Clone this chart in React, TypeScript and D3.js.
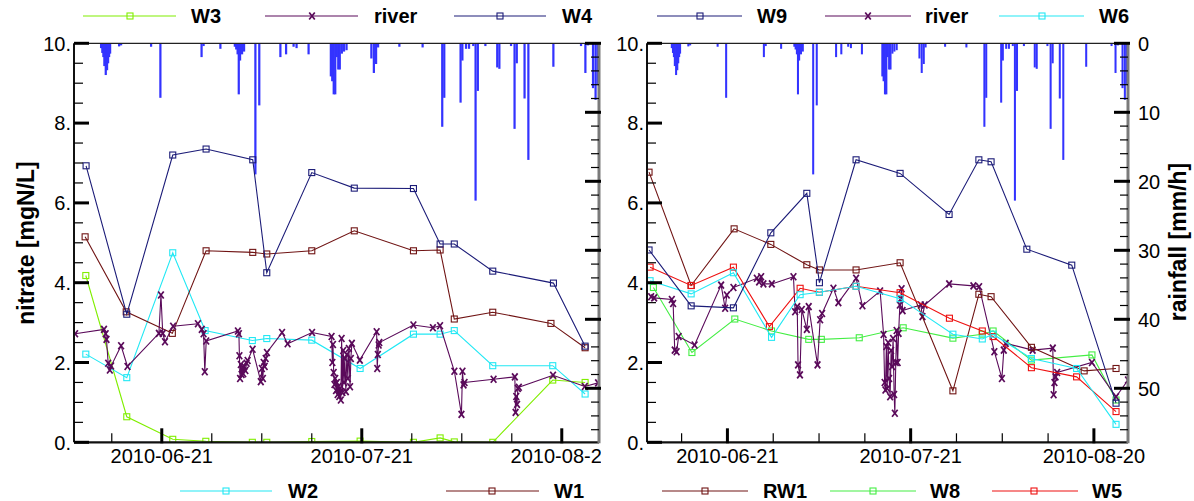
import * as d3 from "d3";

type Pt = [string, number];

const parse = d3.timeParse("%Y-%m-%d %H:%M");
const T = (s: string) => parse(s.length === 10 ? s + " 00:00" : s) as Date;

// time window shared by both panels
const tStart = "2010-06-07 20:00";
const tEnd = "2010-08-25 14:00";
const dateTicks = ["2010-06-21", "2010-07-21", "2010-08-20"];

const nitrateMajor = [0, 2, 4, 6, 8, 10];
const rainMajor = [0, 10, 20, 30, 40, 50];

// ---------- left panel ----------
const W3: Pt[] = [
  ["2010-06-09 14:30", 4.18], ["2010-06-15 18:00", 0.64], ["2010-06-22 15:30", 0.075],
  ["2010-06-27 14:30", 0.025], ["2010-07-04 14:00", 0.0], ["2010-07-06 18:00", 0.0],
  ["2010-07-13 12:00", 0.02], ["2010-07-20 18:00", 0.03], ["2010-07-28 18:00", 0.0],
  ["2010-08-01 18:00", 0.11], ["2010-08-03 21:00", 0.01], ["2010-08-09 15:30", 0.0],
  ["2010-08-18 15:30", 1.56], ["2010-08-23 12:00", 1.5],
];
const W4: Pt[] = [
  ["2010-06-09 15:30", 6.93], ["2010-06-15 18:00", 3.21], ["2010-06-22 15:30", 7.2],
  ["2010-06-27 15:30", 7.35], ["2010-07-04 15:30", 7.08], ["2010-07-06 18:00", 4.25],
  ["2010-07-13 12:00", 6.76], ["2010-07-19 21:00", 6.37], ["2010-07-28 18:00", 6.36],
  ["2010-08-01 18:00", 4.97], ["2010-08-03 21:00", 4.97], ["2010-08-09 15:30", 4.29],
  ["2010-08-18 18:00", 3.99], ["2010-08-23 12:00", 2.41],
];
const W2: Pt[] = [
  ["2010-06-09 14:30", 2.21], ["2010-06-15 18:00", 1.62], ["2010-06-22 15:30", 4.75],
  ["2010-06-27 12:00", 2.8], ["2010-07-04 14:00", 2.55], ["2010-07-06 18:00", 2.6],
  ["2010-07-13 12:00", 2.56], ["2010-07-20 18:00", 1.85], ["2010-07-28 18:00", 2.71],
  ["2010-08-01 18:00", 2.71], ["2010-08-03 21:00", 2.8], ["2010-08-09 15:30", 1.92],
  ["2010-08-18 15:30", 1.92], ["2010-08-23 12:00", 1.21],
];
const W1: Pt[] = [
  ["2010-06-09 12:00", 5.15], ["2010-06-15 16:00", 3.27], ["2010-06-22 14:00", 2.73],
  ["2010-06-27 15:30", 4.8], ["2010-07-04 15:30", 4.76], ["2010-07-06 18:00", 4.72],
  ["2010-07-13 12:00", 4.8], ["2010-07-19 21:00", 5.3], ["2010-07-28 18:00", 4.8],
  ["2010-08-01 18:00", 4.82], ["2010-08-03 21:00", 3.09], ["2010-08-09 15:30", 3.26],
  ["2010-08-18 09:00", 2.98], ["2010-08-23 12:00", 2.37],
];
const riverA: Pt[] = [
  ["2010-06-08 00:00", 2.72], ["2010-06-12 08:00", 2.83], ["2010-06-12 14:00", 2.72],
  ["2010-06-12 17:00", 2.58], ["2010-06-12 23:00", 1.98], ["2010-06-13 05:00", 1.81],
  ["2010-06-13 09:30", 1.91], ["2010-06-14 21:30", 2.42], ["2010-06-15 20:30", 1.9],
  ["2010-06-20 13:40", 2.73], ["2010-06-20 21:00", 3.69], ["2010-06-21 03:30", 2.73],
  ["2010-06-21 11:30", 2.52], ["2010-06-22 16:45", 2.91], ["2010-06-26 10:00", 2.97],
  ["2010-06-27 00:00", 2.83], ["2010-06-27 06:30", 2.72], ["2010-06-27 10:50", 1.77],
  ["2010-06-27 16:00", 2.54], ["2010-07-02 10:00", 2.79], ["2010-07-02 13:40", 2.72],
  ["2010-07-02 15:30", 2.17], ["2010-07-02 17:50", 1.6], ["2010-07-02 20:40", 1.95],
  ["2010-07-02 23:20", 1.7], ["2010-07-03 02:10", 1.88], ["2010-07-03 05:20", 1.72],
  ["2010-07-03 09:00", 1.9], ["2010-07-03 13:00", 1.8], ["2010-07-03 17:20", 1.98],
  ["2010-07-03 21:00", 2.05], ["2010-07-04 15:00", 2.33], ["2010-07-05 20:30", 1.52],
  ["2010-07-06 00:20", 1.85], ["2010-07-06 04:00", 1.6], ["2010-07-06 06:50", 2.0],
  ["2010-07-06 10:30", 1.9], ["2010-07-06 14:00", 2.1], ["2010-07-06 18:40", 2.25],
  ["2010-07-09 01:00", 2.75], ["2010-07-09 21:00", 2.47], ["2010-07-13 13:00", 2.75],
  ["2010-07-16 11:20", 2.65], ["2010-07-16 14:10", 2.0], ["2010-07-16 16:20", 2.45],
  ["2010-07-16 18:50", 1.75], ["2010-07-16 21:40", 1.45], ["2010-07-17 00:30", 1.6],
  ["2010-07-17 03:20", 1.3], ["2010-07-17 06:20", 1.5], ["2010-07-17 09:10", 1.2],
  ["2010-07-17 12:00", 1.4], ["2010-07-17 15:00", 1.15], ["2010-07-17 17:50", 1.35],
  ["2010-07-17 20:40", 1.06], ["2010-07-17 23:30", 2.6], ["2010-07-18 02:20", 1.25],
  ["2010-07-18 05:20", 2.3], ["2010-07-18 08:10", 1.5], ["2010-07-18 11:00", 2.1],
  ["2010-07-18 14:40", 1.27], ["2010-07-18 18:20", 2.2], ["2010-07-18 21:50", 1.6],
  ["2010-07-19 01:30", 2.35], ["2010-07-19 05:50", 1.39], ["2010-07-19 08:40", 2.1],
  ["2010-07-19 12:20", 2.48], ["2010-07-20 17:00", 2.06], ["2010-07-23 05:30", 2.77],
  ["2010-07-23 07:40", 1.85], ["2010-07-23 09:50", 2.2], ["2010-07-23 12:50", 2.44],
  ["2010-07-23 15:00", 2.5], ["2010-07-28 17:50", 2.94], ["2010-07-31 16:00", 2.87],
  ["2010-08-01 17:50", 2.92], ["2010-08-03 21:20", 1.78], ["2010-08-04 22:50", 0.7],
  ["2010-08-05 02:30", 1.78], ["2010-08-05 06:20", 1.44], ["2010-08-05 10:00", 1.5],
  ["2010-08-09 18:30", 1.58], ["2010-08-12 23:00", 1.64], ["2010-08-13 01:40", 0.75],
  ["2010-08-13 04:10", 1.15], ["2010-08-13 07:00", 0.95], ["2010-08-13 09:50", 1.35],
  ["2010-08-13 13:30", 1.38], ["2010-08-18 16:30", 1.68], ["2010-08-23 11:00", 1.4],
  ["2010-08-25 10:30", 1.49],
];

// ---------- right panel ----------
const W9: Pt[] = [
  ["2010-06-08 04:00", 4.82], ["2010-06-15 01:30", 3.42], ["2010-06-21 23:30", 3.37],
  ["2010-06-28 02:30", 5.25], ["2010-07-04 00:00", 6.24], ["2010-07-06 01:30", 4.0],
  ["2010-07-12 01:30", 7.08], ["2010-07-19 06:30", 6.74], ["2010-07-27 07:00", 5.71],
  ["2010-08-01 04:00", 7.08], ["2010-08-03 04:00", 7.03], ["2010-08-09 00:30", 4.84],
  ["2010-08-16 09:00", 4.44], ["2010-08-23 15:00", 0.98],
];
const W6: Pt[] = [
  ["2010-06-08 08:10", 4.05], ["2010-06-15 01:30", 3.72], ["2010-06-21 23:30", 4.25],
  ["2010-06-28 05:20", 2.63], ["2010-07-02 21:40", 3.7], ["2010-07-06 01:30", 3.76],
  ["2010-07-12 01:30", 3.91], ["2010-07-19 06:30", 3.6], ["2010-07-27 22:00", 2.71],
  ["2010-08-01 17:30", 2.59], ["2010-08-03 12:00", 2.71], ["2010-08-09 18:30", 2.1],
  ["2010-08-17 04:00", 1.85], ["2010-08-23 15:00", 0.45],
];
const RW1: Pt[] = [
  ["2010-06-08 04:00", 6.77], ["2010-06-15 01:30", 3.93], ["2010-06-22 02:20", 5.35],
  ["2010-06-28 02:30", 4.96], ["2010-07-04 00:00", 4.45], ["2010-07-06 01:30", 4.32],
  ["2010-07-12 01:30", 4.32], ["2010-07-19 06:30", 4.5], ["2010-07-27 22:00", 1.29],
  ["2010-08-01 04:00", 3.71], ["2010-08-03 04:00", 3.65], ["2010-08-09 18:30", 2.38],
  ["2010-08-18 09:40", 1.79], ["2010-08-23 15:00", 1.85],
];
const W8: Pt[] = [
  ["2010-06-08 21:10", 3.88], ["2010-06-15 04:30", 2.25], ["2010-06-22 05:00", 3.09],
  ["2010-06-28 05:20", 2.79], ["2010-07-04 07:30", 2.58], ["2010-07-06 09:00", 2.58],
  ["2010-07-12 14:00", 2.62], ["2010-07-19 18:40", 2.87], ["2010-07-27 22:00", 2.61],
  ["2010-08-01 17:30", 2.71], ["2010-08-03 12:00", 2.79], ["2010-08-09 18:30", 2.06],
  ["2010-08-19 16:20", 2.19], ["2010-08-23 15:00", 1.06],
];
const W5: Pt[] = [
  ["2010-06-08 08:10", 4.39], ["2010-06-15 01:30", 3.93], ["2010-06-21 23:30", 4.39],
  ["2010-06-27 21:00", 2.9], ["2010-07-02 21:40", 3.86], ["2010-07-06 01:30", 3.76],
  ["2010-07-12 01:30", 3.91], ["2010-07-19 06:30", 3.75], ["2010-07-27 08:20", 3.11],
  ["2010-08-01 17:30", 2.79], ["2010-08-03 12:00", 2.65], ["2010-08-09 18:30", 1.87],
  ["2010-08-17 04:00", 1.64], ["2010-08-23 15:00", 0.77],
];
const riverB: Pt[] = [
  ["2010-06-08 12:15", 3.65], ["2010-06-09 00:00", 3.62], ["2010-06-11 21:30", 3.58],
  ["2010-06-12 02:40", 3.48], ["2010-06-12 09:00", 2.31], ["2010-06-12 16:20", 2.27],
  ["2010-06-13 00:15", 2.65], ["2010-06-15 15:00", 2.44], ["2010-06-19 23:15", 3.94],
  ["2010-06-20 15:00", 3.36], ["2010-06-20 21:40", 3.69], ["2010-06-21 23:40", 3.88],
  ["2010-06-25 19:30", 4.11], ["2010-06-26 04:30", 4.02], ["2010-06-26 12:30", 4.15],
  ["2010-06-26 21:30", 3.97], ["2010-06-28 06:30", 3.97], ["2010-07-01 19:30", 4.15],
  ["2010-07-02 02:00", 3.27], ["2010-07-02 10:20", 3.4], ["2010-07-02 13:30", 1.94],
  ["2010-07-02 21:00", 1.69], ["2010-07-03 04:20", 3.33], ["2010-07-04 00:00", 2.83],
  ["2010-07-04 07:30", 3.4], ["2010-07-05 18:00", 1.94], ["2010-07-06 04:20", 3.07],
  ["2010-07-06 12:00", 3.23], ["2010-07-08 08:30", 3.86], ["2010-07-09 04:00", 3.5],
  ["2010-07-12 01:40", 4.11], ["2010-07-13 02:30", 3.42], ["2010-07-16 00:00", 3.79],
  ["2010-07-16 13:40", 2.7], ["2010-07-16 17:40", 1.5], ["2010-07-16 20:50", 1.31],
  ["2010-07-17 00:30", 2.4], ["2010-07-17 03:40", 1.35], ["2010-07-17 07:30", 2.5],
  ["2010-07-17 11:20", 1.6], ["2010-07-17 15:20", 1.14], ["2010-07-17 19:10", 2.3],
  ["2010-07-17 23:00", 1.9], ["2010-07-18 03:00", 2.6], ["2010-07-18 07:00", 1.2],
  ["2010-07-18 09:50", 0.73], ["2010-07-18 13:30", 2.0], ["2010-07-18 16:50", 2.8],
  ["2010-07-18 20:50", 2.0], ["2010-07-19 00:40", 2.73], ["2010-07-19 05:30", 3.44],
  ["2010-07-19 09:00", 3.6], ["2010-07-19 12:30", 3.85], ["2010-07-19 16:20", 3.3],
  ["2010-07-22 16:00", 3.44], ["2010-07-22 22:20", 3.15], ["2010-07-23 07:00", 3.44],
  ["2010-07-27 07:10", 3.97], ["2010-07-31 06:30", 3.92], ["2010-08-01 05:00", 3.9],
  ["2010-08-03 16:50", 2.27], ["2010-08-04 22:30", 1.6], ["2010-08-05 06:00", 2.31],
  ["2010-08-05 13:30", 2.48], ["2010-08-09 23:20", 2.31], ["2010-08-13 06:30", 2.36],
  ["2010-08-13 09:50", 1.19], ["2010-08-13 13:00", 1.5], ["2010-08-13 17:20", 1.64],
  ["2010-08-13 23:30", 1.75], ["2010-08-19 16:20", 2.0], ["2010-08-23 15:00", 1.14],
  ["2010-08-25 14:00", 1.56],
];

// rainfall [mm/h], shared by both panels
const rain: Pt[] = [
  ["2010-06-11 21:30", 0.7], ["2010-06-12 02:00", 1.4], ["2010-06-12 05:45", 2.0],
  ["2010-06-12 09:20", 3.3], ["2010-06-12 14:20", 4.6], ["2010-06-12 19:00", 3.9],
  ["2010-06-12 22:45", 2.9], ["2010-06-13 02:20", 2.0], ["2010-06-13 06:00", 1.5],
  ["2010-06-14 14:20", 0.45], ["2010-06-14 21:30", 0.3], ["2010-06-19 09:30", 0.5],
  ["2010-06-20 19:00", 7.9], ["2010-06-26 23:15", 2.0], ["2010-06-27 06:30", 0.4],
  ["2010-06-29 19:00", 0.8], ["2010-07-01 23:00", 0.5], ["2010-07-02 04:00", 0.9],
  ["2010-07-02 09:00", 1.6], ["2010-07-02 13:10", 7.4], ["2010-07-02 17:50", 2.5],
  ["2010-07-03 01:00", 1.6], ["2010-07-03 08:15", 1.2], ["2010-07-05 01:00", 19.0],
  ["2010-07-05 15:00", 9.0], ["2010-07-08 19:00", 2.0], ["2010-07-09 15:30", 1.6],
  ["2010-07-10 18:30", 0.5], ["2010-07-11 05:15", 0.7], ["2010-07-13 00:30", 1.6],
  ["2010-07-16 08:40", 4.8], ["2010-07-16 13:40", 5.5], ["2010-07-16 19:00", 7.4],
  ["2010-07-17 00:30", 7.4], ["2010-07-17 06:00", 2.0], ["2010-07-17 11:20", 3.8],
  ["2010-07-17 16:50", 3.8], ["2010-07-18 00:15", 1.5], ["2010-07-18 08:10", 1.2],
  ["2010-07-18 17:10", 1.0], ["2010-07-22 10:30", 2.2], ["2010-07-22 19:30", 4.3],
  ["2010-07-23 03:30", 3.0], ["2010-07-23 10:40", 0.6], ["2010-07-26 15:20", 0.5],
  ["2010-07-30 03:00", 0.6], ["2010-08-02 01:40", 12.1], ["2010-08-02 09:00", 7.9],
  ["2010-08-04 19:40", 8.6], ["2010-08-05 02:10", 2.5], ["2010-08-05 15:20", 0.8],
  ["2010-08-06 02:10", 0.8], ["2010-08-06 17:20", 0.4], ["2010-08-07 01:40", 22.8],
  ["2010-08-07 09:50", 6.9], ["2010-08-08 13:00", 0.4], ["2010-08-10 07:40", 3.5],
  ["2010-08-10 15:20", 3.7], ["2010-08-12 09:20", 0.4], ["2010-08-12 22:00", 12.4],
  ["2010-08-13 06:00", 2.9], ["2010-08-14 10:00", 8.0], ["2010-08-14 23:45", 16.9],
  ["2010-08-18 17:45", 3.4], ["2010-08-22 21:20", 0.4], ["2010-08-23 13:00", 4.3],
  ["2010-08-23 22:30", 0.3], ["2010-08-24 16:30", 6.5], ["2010-08-25 01:40", 8.2],
  ["2010-08-25 09:00", 6.0],
];

type Series = { name: string; data: Pt[]; color: string; marker: "sq" | "x" };

const C = {
  green: "#80ee00",
  river: "#5a0a5a",
  navy: "#1c1c78",
  cyan: "#22e8f4",
  maroon: "#701414",
  lime: "#44ee44",
  red: "#ee1111",
  rain: "#3333ff",
};

const leftSeries: Series[] = [
  { name: "W3", data: W3, color: C.green, marker: "sq" },
  { name: "W2", data: W2, color: C.cyan, marker: "sq" },
  { name: "W1", data: W1, color: C.maroon, marker: "sq" },
  { name: "river", data: riverA, color: C.river, marker: "x" },
  { name: "W4", data: W4, color: C.navy, marker: "sq" },
];
const rightSeries: Series[] = [
  { name: "W8", data: W8, color: C.lime, marker: "sq" },
  { name: "river", data: riverB, color: C.river, marker: "x" },
  { name: "RW1", data: RW1, color: C.maroon, marker: "sq" },
  { name: "W5", data: W5, color: C.red, marker: "sq" },
  { name: "W6", data: W6, color: C.cyan, marker: "sq" },
  { name: "W9", data: W9, color: C.navy, marker: "sq" },
];

// legend layout: [name, lineStart, lineEnd, markerX, textX]
type Leg = [string, number, number, number, number];
const legendLayout: { y: number; items: Leg[] }[] = [
  { y: 16, items: [["W3", 83, 176, 130, 191], ["river", 265, 358, 312, 374], ["W4", 454, 546, 500, 562]] },
  { y: 16, items: [["W9", 657, 742, 700, 757], ["river", 825, 911, 868, 925], ["W6", 999, 1084, 1042, 1099]] },
  { y: 491, items: [["W2", 180, 272, 226, 288], ["W1", 446, 539, 492, 554]] },
  { y: 491, items: [["RW1", 662, 748, 705, 763], ["W8", 830, 916, 873, 930], ["W5", 992, 1078, 1034, 1092]] },
];

const TOP = 43.3;
const BOT = 442.3;
const FONT = "'Liberation Sans', Arial, Helvetica, sans-serif";

const yN = d3.scaleLinear().domain([0, 10]).range([BOT, TOP]);
const yR = d3.scaleLinear().domain([0, (BOT - TOP) / 6.9]).range([TOP, BOT]);

function Marker({ x, y, color, kind }: { x: number; y: number; color: string; kind: "sq" | "x" }) {
  if (kind === "sq")
    return <rect x={x - 3} y={y - 3} width={6} height={6} fill="none" stroke={color} strokeWidth={1.1} />;
  return (
    <g stroke={color} strokeWidth={1.7}>
      <line x1={x - 2.8} y1={y - 3.5} x2={x + 2.8} y2={y + 3.5} />
      <line x1={x - 2.8} y1={y + 3.5} x2={x + 2.8} y2={y - 3.5} />
    </g>
  );
}

function Panel({ id, x0, x1, series, rainLabels }: { id: string; x0: number; x1: number; series: Series[]; rainLabels: boolean }) {
  const x = d3.scaleTime().domain([T(tStart), T(tEnd)]).range([x0, x1]);
  const line = d3
    .line<Pt>()
    .x((d) => x(T(d[0])))
    .y((d) => yN(d[1]));
  const minorX: Date[] = [];
  for (let k = -4; k <= 8; k++) {
    const t = d3.timeHour.offset(T(dateTicks[0]), k * 180);
    if (t >= T(tStart) && t <= T(tEnd)) minorX.push(t);
  }
  const nMinor = d3.range(0, 10.001, 0.5);
  const rMinor = d3.range(0, yR.domain()[1], 2);
  const barW = (d: Pt) => Math.max(1.6, x(d3.timeHour.offset(T(d[0]), 8)) - x(T(d[0])));

  return (
    <g>
      <defs>
        <clipPath id={"clip" + id}>
          <rect x={x0} y={TOP} width={x1 - x0} height={BOT - TOP} />
        </clipPath>
      </defs>
      {/* rainfall bars */}
      <g clipPath={`url(#clip${id})`}>
        {rain.map((d, i) => (
          <rect key={i} x={x(T(d[0])) - barW(d) / 2} y={TOP} width={barW(d)} height={yR(d[1]) - TOP} fill={C.rain} />
        ))}
      </g>
      {/* series */}
      <g clipPath={`url(#clip${id})`}>
        {series.map((s) => (
          <g key={s.name}>
            <path d={line(s.data) || ""} fill="none" stroke={s.color} strokeWidth={1.1} />
            {s.data.map((d, i) => (
              <Marker key={i} x={x(T(d[0]))} y={yN(d[1])} color={s.color} kind={s.marker} />
            ))}
          </g>
        ))}
      </g>
      {/* frame */}
      <line x1={x0} x2={x1} y1={TOP} y2={TOP} stroke="#222" strokeWidth={1.3} />
      <line x1={x0} x2={x1} y1={BOT} y2={BOT} stroke="#111" strokeWidth={2.2} />
      <line x1={x0} x2={x0} y1={TOP} y2={BOT} stroke="#111" strokeWidth={2} />
      <line x1={x1} x2={x1} y1={TOP} y2={BOT + 1} stroke="#7a7a7a" strokeWidth={3} />
      {/* nitrate ticks */}
      {nMinor.map((v) => {
        const major = nitrateMajor.includes(v);
        return (
          <line key={v} x1={x0} x2={x0 + (major ? 15 : 9)} y1={yN(v)} y2={yN(v)} stroke="#000" strokeWidth={major ? 3 : 1.2} />
        );
      })}
      {nitrateMajor.map((v) => (
        <text key={v} x={x0 - 3} y={yN(v)} dy="0.36em" textAnchor="end" fontSize={20} fontFamily={FONT}>
          {v + "."}
        </text>
      ))}
      {/* rainfall ticks */}
      {rMinor.map((v) => {
        const major = rainMajor.includes(v);
        return (
          <line key={v} x1={x1 - (major ? 14 : 8)} x2={x1 + (major ? 2 : 0)} y1={yR(v)} y2={yR(v)} stroke="#000" strokeWidth={major ? 3 : 1.2} />
        );
      })}
      {rainLabels &&
        rainMajor.map((v) => (
          <text key={v} x={x1 + 10} y={yR(v)} dy="0.36em" fontSize={20} fontFamily={FONT}>
            {v}
          </text>
        ))}
      {/* time ticks */}
      {minorX.map((t, i) => (
        <line key={i} x1={x(t)} x2={x(t)} y1={BOT} y2={BOT - 9} stroke="#000" strokeWidth={1.2} />
      ))}
      {dateTicks.map((s) => (
        <line key={s} x1={x(T(s))} x2={x(T(s))} y1={BOT + 1} y2={BOT - 14} stroke="#000" strokeWidth={3} />
      ))}
      {dateTicks.map((s) => (
        <text key={s} x={x(T(s))} y={463} textAnchor="middle" fontSize={20} fontFamily={FONT}>
          {s}
        </text>
      ))}
    </g>
  );
}

function Legends() {
  const all = [...leftSeries, ...rightSeries];
  return (
    <g>
      {legendLayout.map((grp, gi) =>
        grp.items.map(([name, a, b, m, t]) => {
          const s = all.find((d) => d.name === name)!;
          return (
            <g key={gi + name}>
              <line x1={a} x2={b} y1={grp.y} y2={grp.y} stroke={s.color} strokeWidth={1.1} />
              <Marker x={m} y={grp.y} color={s.color} kind={s.marker} />
              <text x={t} y={grp.y + 7} fontSize={20} fontWeight="bold" fontFamily={FONT}>
                {name}
              </text>
            </g>
          );
        })
      )}
    </g>
  );
}

export default function App() {
  return (
    <div style={{ position: "absolute", left: 0, top: 0 }}>
      <svg width={1194} height={501} style={{ display: "block", background: "#fff" }}>
        <defs>
          <clipPath id="leftHalf">
            <rect x={0} y={0} width={601} height={501} />
          </clipPath>
        </defs>
        <g clipPath="url(#leftHalf)">
          <Panel id="L" x0={74} x1={599} series={leftSeries} rainLabels={false} />
        </g>
        <Panel id="R" x0={647} x1={1128} series={rightSeries} rainLabels={true} />
        <Legends />
        <text transform="translate(34,243) rotate(-90)" textAnchor="middle" fontSize={23} fontWeight="bold" fontFamily={FONT}>
          nitrate [mgN/L]
        </text>
        <text transform="translate(1186,242) rotate(-90)" textAnchor="middle" fontSize={23} fontWeight="bold" fontFamily={FONT}>
          rainfall [mm/h]
        </text>
      </svg>
    </div>
  );
}
